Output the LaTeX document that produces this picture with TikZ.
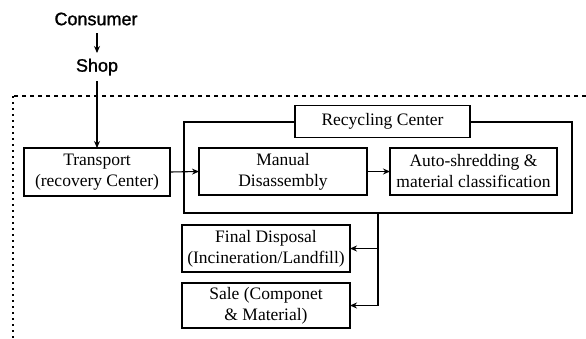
\documentclass[tikz,border=0pt]{standalone}
\usepackage{fontspec}
\setmainfont{Liberation Serif}
\newfontfamily\labsans[FakeBold=1.2]{Liberation Sans}
\usetikzlibrary{arrows.meta}
\begin{document}
\begin{tikzpicture}[x=1pt,y=1pt,
  every node/.style={inner sep=0pt, outer sep=0pt},
  boxnode/.style={draw, line width=1.1pt, align=center, font=\fontsize{17.5}{21}\selectfont},
  plainlabel/.style={font=\labsans\fontsize{18}{20}\selectfont},
  conn/.style={line width=1.1pt, -{Stealth[length=7pt,width=6pt]}},
  plainline/.style={line width=1.1pt},
  frametop/.style={line width=1.6pt, dash pattern=on 4pt off 4pt},
  frameleft/.style={line width=1.4pt, dash pattern=on 2pt off 4pt}]
\useasboundingbox (0,0) rectangle (586,-338);
% dotted frame
\coordinate (ftop) at (13,-96);
\coordinate (fright) at (586,-96);
\coordinate (fbot) at (13,-338);
\draw[frametop] (fright) -- (ftop);
\draw[frameleft] (ftop) -- (fbot);
% texts
\node[plainlabel] (consumer) at (96,-19) {Consumer};
\node[plainlabel] (shop) at (97,-67) {Shop};
% boxes
\node[boxnode, minimum width=388pt, minimum height=91pt] (rcbox) at (378,-167.5) {};
\node[boxnode, fill=white, minimum width=175pt, minimum height=32pt] (rclabel) at (382.5,-121.5) {Recycling Center};
\node[boxnode, minimum width=146pt, minimum height=48pt] (transport) at (97,-172) {Transport\\(recovery Center)};
\node[boxnode, minimum width=168pt, minimum height=47pt] (manual) at (283,-171.5) {Manual\\Disassembly};
\node[boxnode, minimum width=167pt, minimum height=47pt] (auto) at (473.5,-171.5) {Auto-shredding \&\\material classification};
\node[boxnode, minimum width=168pt, minimum height=47pt] (final) at (266,-248.5) {Final Disposal\\(Incineration/Landfill)};
\node[boxnode, minimum width=168pt, minimum height=45pt] (sale) at (266,-305.5) {Sale (Componet\\\& Material)};
% connectors
\coordinate (cstart) at (97,-33);
\coordinate (cend) at (97,-53);
\draw[conn] (cstart) -- (cend);
\coordinate (sstart) at (97,-81);
\draw[conn] (sstart) -- (transport.north);
\draw[conn] (transport.east) -- (manual.west);
\draw[conn] (manual.east) -- (auto.west);
\coordinate (vbend) at (rcbox.south |- sale.east);
\draw[plainline] (rcbox.south) -- (vbend);
\draw[conn] (rcbox.south |- final.east) -- (final.east);
\draw[conn] (vbend) -- (sale.east);
\end{tikzpicture}
\end{document}
